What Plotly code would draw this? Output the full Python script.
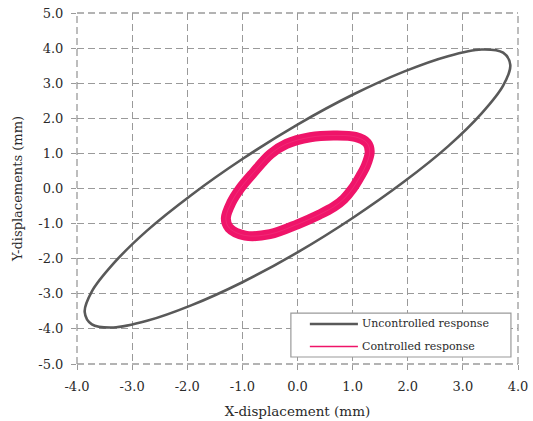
import plotly.graph_objects as go

# Orbit of the uncontrolled response (mm), traced point by point around the loop
unc_x = [3.86, 3.73, 3.34, 2.73, 1.93, 1.00, 0.00, -1.00, -1.93, -2.73, -3.34, -3.73,
         -3.86, -3.73, -3.34, -2.73, -1.93, -1.00, 0.00, 1.00, 1.93, 2.73, 3.34, 3.73, 3.86]
unc_y = [3.52, 3.87, 3.96, 3.77, 3.33, 2.67, 1.82, 0.84, -0.19, -1.20, -2.14, -2.93,
         -3.52, -3.87, -3.96, -3.77, -3.33, -2.67, -1.82, -0.84, 0.19, 1.20, 2.14, 2.93, 3.52]

# Orbit of the controlled response (mm), centre of the band swept by the repeated cycles
ctl_x = [0.23, 0.65, 1.05, 1.26, 1.31, 1.24, 1.12, 1.00, 0.84, 0.66, 0.40, 0.00, -0.50,
         -0.95, -1.24, -1.30, -1.20, -1.04, -0.80, -0.49, -0.20, 0.23]
ctl_y = [1.46, 1.51, 1.47, 1.30, 1.05, 0.65, 0.30, 0.00, -0.30, -0.52, -0.74, -1.02, -1.30,
         -1.34, -1.12, -0.85, -0.40, 0.00, 0.45, 0.98, 1.27, 1.46]

# Axis ticks
x_ticks = [-4.0, -3.0, -2.0, -1.0, 0.0, 1.0, 2.0, 3.0, 4.0]
x_tick_text = ["-4.0", "-3.0", "-2.0", "-1.0", "0.0", "1.0", "2.0", "3.0", "4.0"]
y_ticks = [-5.0, -4.0, -3.0, -2.0, -1.0, 0.0, 1.0, 2.0, 3.0, 4.0, 5.0]
y_tick_text = ["-5.0", "-4.0", "-3.0", "-2.0", "-1.0", "0.0", "1.0", "2.0", "3.0", "4.0", "5.0"]

series_names = ["Uncontrolled response", "Controlled response"]

GRAY = "#595959"
PINK = "#EF1469"
GRID = "#9a9a9a"
DASH = "7px,4px"
FONT = "DejaVu Serif"
TEXT = "#2a2a2a"

fig = go.Figure()

# Controlled orbit: a wide band, with a faint lighter strand from the overlapping cycles
fig.add_trace(go.Scatter(
    x=ctl_x, y=ctl_y, mode="lines", name=series_names[1], showlegend=False,
    line=dict(color=PINK, width=10, shape="spline", smoothing=1.0)))
fig.add_trace(go.Scatter(
    x=ctl_x, y=ctl_y, mode="lines", showlegend=False, hoverinfo="skip",
    line=dict(color="rgba(255,255,255,0.12)", width=0.7, shape="spline", smoothing=1.0)))

fig.add_trace(go.Scatter(
    x=unc_x, y=unc_y, mode="lines", name=series_names[0], showlegend=False,
    line=dict(color=GRAY, width=2.6, shape="spline", smoothing=1.0)))

axis_common = dict(
    showgrid=True, gridcolor=GRID, gridwidth=1.3, griddash=DASH,
    zeroline=False, showline=False,
    ticks="outside", ticklen=5, tickcolor=GRID, tickwidth=1.3,
    ticklabelstandoff=5,
    tickfont=dict(family=FONT, size=13, color=TEXT),
)

# Dashed frame at the axis limits, continuing the grid
frame = [
    dict(x0=0, x1=1, y0=0, y1=0), dict(x0=0, x1=1, y0=1, y1=1),
    dict(x0=0, x1=0, y0=0, y1=1), dict(x0=1, x1=1, y0=0, y1=1),
]
shapes = [dict(type="line", xref="paper", yref="paper", layer="below",
               line=dict(color=GRID, width=1.3, dash=DASH), **f) for f in frame]

# Legend box with line samples
lx0, lx1, ly0, ly1 = 0.485, 0.984, 0.020, 0.145
shapes.append(dict(type="rect", xref="paper", yref="paper", x0=lx0, x1=lx1, y0=ly0, y1=ly1,
                   fillcolor="white", line=dict(color=GRID, width=1.2), layer="above"))
annotations = []
for name, color, width, yy in ((series_names[0], GRAY, 2.6, 0.114),
                               (series_names[1], PINK, 1.6, 0.050)):
    shapes.append(dict(type="line", xref="paper", yref="paper", x0=0.528, x1=0.637,
                       y0=yy, y1=yy, line=dict(color=color, width=width), layer="above"))
    annotations.append(dict(xref="paper", yref="paper", x=0.641, y=yy, text=name,
                            showarrow=False, xanchor="left", yanchor="middle",
                            font=dict(family=FONT, size=11, color=TEXT)))

fig.update_layout(
    width=533, height=421,
    margin=dict(l=77, r=15, t=13, b=57, autoexpand=False),
    paper_bgcolor="white", plot_bgcolor="white",
    font=dict(family=FONT, color=TEXT),
    xaxis=dict(range=[-4.0, 4.0], tickvals=x_ticks, ticktext=x_tick_text,
               title=dict(text="X-displacement (mm)", font=dict(family=FONT, size=13.5, color=TEXT),
                          standoff=13),
               automargin=False, **axis_common),
    yaxis=dict(range=[-5.0, 5.0], tickvals=y_ticks, ticktext=y_tick_text,
               title=dict(text="Y-displacements (mm)", font=dict(family=FONT, size=13, color=TEXT),
                          standoff=12),
               automargin=False, **axis_common),
    shapes=shapes,
    annotations=annotations,
    showlegend=False,
)

fig.write_html("out.html")
